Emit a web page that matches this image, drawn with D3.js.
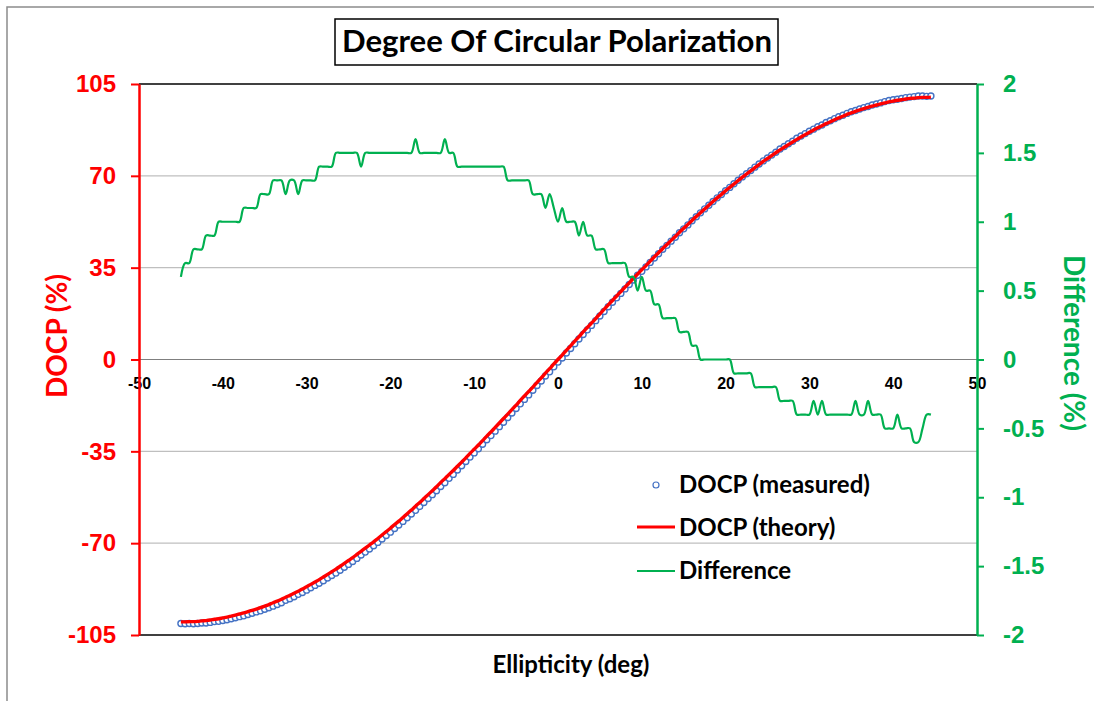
<!DOCTYPE html>
<html>
<head>
<meta charset="utf-8">
<script src="https://cdn.jsdelivr.net/npm/d3@7"></script>
<style>
	html, body { margin: 0; padding: 0; background: #fff; }
	svg { display: block; font-family: Lato, "Open Sans", sans-serif; font-weight: bold; }
</style>
</head>
<body>
<svg id="chart" width="1094" height="701"></svg>
<script>
'use strict'

// ellipticity (deg), one sample each half degree
var ellipticity = [
	-45,-44.5,-44,-43.5,-43,-42.5,-42,-41.5,-41,-40.5,-40,-39.5,-39,-38.5,-38,-37.5,-37,-36.5,-36,-35.5,
	-35,-34.5,-34,-33.5,-33,-32.5,-32,-31.5,-31,-30.5,-30,-29.5,-29,-28.5,-28,-27.5,-27,-26.5,-26,-25.5,
	-25,-24.5,-24,-23.5,-23,-22.5,-22,-21.5,-21,-20.5,-20,-19.5,-19,-18.5,-18,-17.5,-17,-16.5,-16,-15.5,
	-15,-14.5,-14,-13.5,-13,-12.5,-12,-11.5,-11,-10.5,-10,-9.5,-9,-8.5,-8,-7.5,-7,-6.5,-6,-5.5,
	-5,-4.5,-4,-3.5,-3,-2.5,-2,-1.5,-1,-0.5,0,0.5,1,1.5,2,2.5,3,3.5,4,4.5,
	5,5.5,6,6.5,7,7.5,8,8.5,9,9.5,10,10.5,11,11.5,12,12.5,13,13.5,14,14.5,
	15,15.5,16,16.5,17,17.5,18,18.5,19,19.5,20,20.5,21,21.5,22,22.5,23,23.5,24,24.5,
	25,25.5,26,26.5,27,27.5,28,28.5,29,29.5,30,30.5,31,31.5,32,32.5,33,33.5,34,34.5,
	35,35.5,36,36.5,37,37.5,38,38.5,39,39.5,40,40.5,41,41.5,42,42.5,43,43.5,44,44.5
];

var docpTheory = [
	-100.0,-100.0,-99.9,-99.9,-99.8,-99.6,-99.5,-99.3,-99.0,-98.8,-98.5,-98.2,-97.8,-97.4,-97.0,-96.6,-96.1,-95.6,-95.1,-94.6,
	-94.0,-93.4,-92.7,-92.1,-91.4,-90.6,-89.9,-89.1,-88.3,-87.5,-86.6,-85.7,-84.8,-83.9,-82.9,-81.9,-80.9,-79.9,-78.8,-77.7,
	-76.6,-75.5,-74.3,-73.1,-71.9,-70.7,-69.5,-68.2,-66.9,-65.6,-64.3,-62.9,-61.6,-60.2,-58.8,-57.4,-55.9,-54.5,-53.0,-51.5,
	-50.0,-48.5,-46.9,-45.4,-43.8,-42.3,-40.7,-39.1,-37.5,-35.8,-34.2,-32.6,-30.9,-29.2,-27.6,-25.9,-24.2,-22.5,-20.8,-19.1,
	-17.4,-15.6,-13.9,-12.2,-10.5,-8.7,-7.0,-5.2,-3.5,-1.7,0.0,1.7,3.5,5.2,7.0,8.7,10.5,12.2,13.9,15.6,
	17.4,19.1,20.8,22.5,24.2,25.9,27.6,29.2,30.9,32.6,34.2,35.8,37.5,39.1,40.7,42.3,43.8,45.4,46.9,48.5,
	50.0,51.5,53.0,54.5,55.9,57.4,58.8,60.2,61.6,62.9,64.3,65.6,66.9,68.2,69.5,70.7,71.9,73.1,74.3,75.5,
	76.6,77.7,78.8,79.9,80.9,81.9,82.9,83.9,84.8,85.7,86.6,87.5,88.3,89.1,89.9,90.6,91.4,92.1,92.7,93.4,
	94.0,94.6,95.1,95.6,96.1,96.6,97.0,97.4,97.8,98.2,98.5,98.8,99.0,99.3,99.5,99.6,99.8,99.9,99.9,100.0
];

var docpMeasured = [
	-100.6,-100.7,-100.6,-100.7,-100.6,-100.4,-100.4,-100.2,-99.9,-99.8,-99.5,-99.2,-98.8,-98.4,-98.0,-97.7,-97.2,-96.7,-96.2,-95.8,
	-95.2,-94.6,-94.0,-93.4,-92.7,-91.8,-91.2,-90.4,-89.5,-88.8,-87.9,-87.0,-86.1,-85.3,-84.3,-83.3,-82.3,-81.4,-80.3,-79.2,
	-78.1,-77.0,-75.8,-74.5,-73.4,-72.2,-71.0,-69.7,-68.4,-67.1,-65.8,-64.4,-63.1,-61.7,-60.3,-58.9,-57.5,-56.0,-54.5,-53.0,
	-51.5,-50.0,-48.4,-47.0,-45.3,-43.8,-42.1,-40.5,-38.9,-37.2,-35.6,-34.0,-32.3,-30.6,-29.0,-27.3,-25.6,-23.9,-22.1,-20.4,
	-18.7,-16.9,-15.2,-13.5,-11.7,-9.9,-8.2,-6.3,-4.7,-2.8,-1.0,0.6,2.5,4.2,6.0,7.8,9.5,11.3,13.0,14.8,
	16.6,18.3,20.1,21.8,23.5,25.2,26.9,28.6,30.3,32.1,33.6,35.3,37.0,38.7,40.3,42.0,43.5,45.1,46.6,48.3,
	49.8,51.3,52.9,54.4,55.9,57.4,58.8,60.2,61.6,62.9,64.3,65.6,67.0,68.3,69.6,70.8,72.0,73.3,74.5,75.7,
	76.8,77.9,79.0,80.2,81.2,82.2,83.2,84.3,85.2,86.1,87.0,87.8,88.7,89.4,90.3,91.0,91.8,92.5,93.1,93.8,
	94.4,94.9,95.5,96.0,96.4,97.0,97.4,97.8,98.3,98.7,99.0,99.2,99.5,99.8,100.0,100.2,100.4,100.4,100.3,100.4
];

// theory minus measured, in percent
var difference = [
	0.6,0.7,0.7,0.8,0.8,0.8,0.9,0.9,0.9,1.0,1.0,1.0,1.0,1.0,1.0,1.1,1.1,1.1,1.1,1.2,
	1.2,1.2,1.3,1.3,1.3,1.2,1.3,1.3,1.2,1.3,1.3,1.3,1.3,1.4,1.4,1.4,1.4,1.5,1.5,1.5,
	1.5,1.5,1.5,1.4,1.5,1.5,1.5,1.5,1.5,1.5,1.5,1.5,1.5,1.5,1.5,1.5,1.6,1.5,1.5,1.5,
	1.5,1.5,1.5,1.6,1.5,1.5,1.4,1.4,1.4,1.4,1.4,1.4,1.4,1.4,1.4,1.4,1.4,1.4,1.3,1.3,
	1.3,1.3,1.3,1.3,1.2,1.2,1.2,1.1,1.2,1.1,1.0,1.1,1.0,1.0,1.0,0.9,1.0,0.9,0.9,0.8,
	0.8,0.8,0.7,0.7,0.7,0.7,0.7,0.6,0.6,0.5,0.6,0.5,0.5,0.4,0.4,0.3,0.3,0.3,0.3,0.2,
	0.2,0.2,0.1,0.1,0.0,0.0,0.0,0.0,0.0,0.0,0.0,0.0,-0.1,-0.1,-0.1,-0.1,-0.1,-0.2,-0.2,-0.2,
	-0.2,-0.2,-0.2,-0.3,-0.3,-0.3,-0.3,-0.4,-0.4,-0.4,-0.4,-0.3,-0.4,-0.3,-0.4,-0.4,-0.4,-0.4,-0.4,-0.4,
	-0.4,-0.3,-0.4,-0.4,-0.3,-0.4,-0.4,-0.4,-0.5,-0.5,-0.5,-0.4,-0.5,-0.5,-0.5,-0.6,-0.6,-0.5,-0.4,-0.4
];

var xTicks = [-50,-40,-30,-20,-10,0,10,20,30,40,50];
var docpTicks = [-105,-70,-35,0,35,70,105];
var diffTicks = [-2,-1.5,-1,-0.5,0,0.5,1,1.5,2];
var legendLabels = ['DOCP (measured)', 'DOCP (theory)', 'Difference'];

var RED = '#ff0000', GREEN = '#00b050', BLUE = '#4472c4';

// plain hyphen minus, no trailing zeros
var fmt = function(d){ return String(d); };

var svg = d3.select('#chart');

var x = d3.scaleLinear().domain([-50, 50]).range([139, 977]);
var yL = d3.scaleLinear().domain([-105, 105]).range([635, 84]);
var yR = d3.scaleLinear().domain([-2, 2]).range([635, 84]);

// chart frame
svg.append('rect')
	.attr('x', 7).attr('y', 7).attr('width', 1100).attr('height', 720)
	.attr('fill', 'none').attr('stroke', '#8c8c8c').attr('stroke-width', 1.5);

// title
svg.append('rect')
	.attr('x', 335).attr('y', 19).attr('width', 443).attr('height', 46)
	.attr('fill', '#fff').attr('stroke', '#000').attr('stroke-width', 1.5);
svg.append('text')
	.attr('x', 557).attr('y', 52).attr('text-anchor', 'middle')
	.attr('font-size', 30).attr('textLength', 430).attr('lengthAdjust', 'spacingAndGlyphs')
	.text('Degree Of Circular Polarization');

// gridlines
svg.append('g').selectAll('line')
	.data(docpTicks)
	.join('line')
	.attr('x1', 139).attr('x2', 977)
	.attr('y1', function(d){ return yL(d); }).attr('y2', function(d){ return yL(d); })
	.attr('stroke', function(d){ return d === 0 ? '#7f7f7f' : (Math.abs(d) === 105 ? '#000' : '#bfbfbf'); })
	.attr('stroke-width', function(d){ return Math.abs(d) === 105 ? 1.5 : 1.2; });

// x axis labels sit under the zero line
var gx = svg.append('g')
	.attr('transform', 'translate(0,' + yL(0) + ')')
	.call(d3.axisBottom(x).tickValues(xTicks).tickFormat(fmt).tickSize(0).tickPadding(18));
gx.select('.domain').remove();
gx.selectAll('text').attr('font-size', 16).attr('fill', '#000').attr('font-family', null);

// left axis
var gl = svg.append('g')
	.attr('transform', 'translate(139,0)')
	.call(d3.axisLeft(yL).tickValues(docpTicks).tickFormat(fmt).tickSize(8).tickSizeOuter(0).tickPadding(15));
gl.select('.domain').attr('stroke', RED).attr('stroke-width', 2.5);
gl.selectAll('.tick line').attr('stroke', RED).attr('stroke-width', 2);
gl.selectAll('text').attr('font-size', 24).attr('fill', RED).attr('font-family', null);

// right axis
var gr = svg.append('g')
	.attr('transform', 'translate(977,0)')
	.call(d3.axisRight(yR).tickValues(diffTicks).tickFormat(fmt).tickSize(7).tickSizeOuter(0).tickPadding(19));
gr.select('.domain').attr('stroke', GREEN).attr('stroke-width', 2.5);
gr.selectAll('.tick line').attr('stroke', GREEN).attr('stroke-width', 2);
gr.selectAll('text').attr('font-size', 24).attr('fill', GREEN).attr('font-family', null);

// axis titles
svg.append('text')
	.attr('transform', 'translate(67,336) rotate(-90)')
	.attr('text-anchor', 'middle').attr('font-size', 28).attr('fill', RED)
	.text('DOCP (%)');
svg.append('text')
	.attr('transform', 'translate(1064,343) rotate(90)')
	.attr('text-anchor', 'middle').attr('font-size', 28).attr('fill', GREEN)
	.text('Difference (%)');
svg.append('text')
	.attr('x', 571).attr('y', 673).attr('text-anchor', 'middle').attr('font-size', 24)
	.text('Ellipticity (deg)');

// series
var plot = svg.append('g');

plot.append('g').selectAll('circle')
	.data(ellipticity)
	.join('circle')
	.attr('cx', function(d){ return x(d); })
	.attr('cy', function(d, i){ return yL(docpMeasured[i]); })
	.attr('r', 3)
	.attr('fill', '#fff').attr('stroke', BLUE).attr('stroke-width', 1.4);

var theoryLine = d3.line()
	.x(function(d){ return x(d); })
	.y(function(d, i){ return yL(docpTheory[i]); })
	.curve(d3.curveMonotoneX);
plot.append('path')
	.attr('d', theoryLine(ellipticity))
	.attr('fill', 'none').attr('stroke', RED).attr('stroke-width', 3.4);

var diffLine = d3.line()
	.x(function(d){ return x(d); })
	.y(function(d, i){ return yR(difference[i]); })
	.curve(d3.curveCatmullRom.alpha(0.5));
plot.append('path')
	.attr('d', diffLine(ellipticity))
	.attr('fill', 'none').attr('stroke', GREEN).attr('stroke-width', 2.2)
	.attr('stroke-linejoin', 'round');

// legend
var legend = svg.append('g').attr('font-size', 24);
legend.append('circle')
	.attr('cx', 656).attr('cy', 485).attr('r', 3)
	.attr('fill', '#fff').attr('stroke', BLUE).attr('stroke-width', 1.2);
legend.append('line')
	.attr('x1', 637).attr('x2', 675).attr('y1', 527).attr('y2', 527)
	.attr('stroke', RED).attr('stroke-width', 3);
legend.append('line')
	.attr('x1', 637).attr('x2', 675).attr('y1', 571).attr('y2', 571)
	.attr('stroke', GREEN).attr('stroke-width', 2);
legend.selectAll('text')
	.data(legendLabels)
	.join('text')
	.attr('x', 679)
	.attr('y', function(d, i){ return 493 + i * 43; })
	.text(function(d){ return d; });
</script>
</body>
</html>
